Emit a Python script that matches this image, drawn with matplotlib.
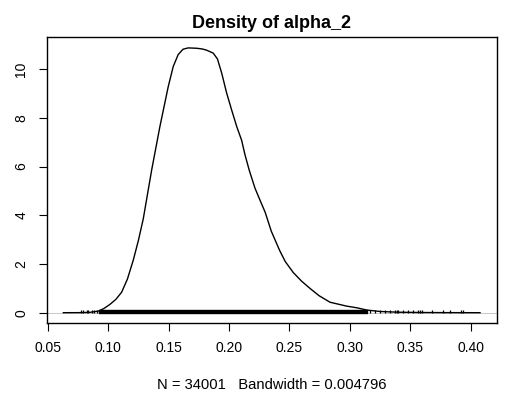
"""
Density plot of an MCMC parameter (coda densplot style).
Writes out.png
"""

import matplotlib
matplotlib.use('Agg')
import matplotlib.pyplot as plt
import numpy as np

matplotlib.rcParams['font.family'] = ['Liberation Sans', 'DejaVu Sans']

# Kernel density estimate
dens_x = [0.0630, 0.0750, 0.0850, 0.0919, 0.0965, 0.1015, 0.1065, 0.1112,
          0.1160, 0.1208, 0.1250, 0.1291, 0.1361, 0.1429, 0.1498, 0.1539,
          0.1580, 0.1620, 0.1663, 0.1733, 0.1780, 0.1816, 0.1870, 0.1905,
          0.1940, 0.1981, 0.2022, 0.2064, 0.2105, 0.2132, 0.2168, 0.2215,
          0.2257, 0.2300, 0.2350, 0.2420, 0.2466, 0.2532, 0.2600, 0.2670,
          0.2745, 0.2836, 0.2974, 0.3060, 0.3139, 0.3250, 0.3400, 0.3600,
          0.3800, 0.4077]
dens_y = [0.000, 0.002, 0.015, 0.066, 0.170, 0.340, 0.550, 0.840,
          1.380, 2.150, 2.950, 3.850, 5.870, 7.650, 9.290, 10.110,
          10.600, 10.820, 10.875, 10.860, 10.830, 10.780, 10.660, 10.420,
          9.840, 9.020, 8.330, 7.650, 7.080, 6.500, 5.850, 5.120,
          4.620, 4.120, 3.350, 2.550, 2.100, 1.650, 1.300, 1.000,
          0.700, 0.430, 0.270, 0.200, 0.110, 0.050, 0.020, 0.008,
          0.003, 0.000]

# Observations shown as short ticks at the bottom of the curve
obs_left = [0.0776, 0.0795, 0.0823, 0.0838, 0.0864, 0.0883, 0.0905]
obs_right = [0.3167, 0.3208, 0.3250, 0.3291, 0.3332, 0.3374, 0.3388, 0.3401,
             0.3442, 0.3484, 0.3525, 0.3566, 0.3580, 0.3594, 0.3677, 0.3773,
             0.3829, 0.3920, 0.3934]
obs_dense = (0.0925, 0.3140)   # range where the ticks merge into a solid bar

n_obs = 34001
bandwidth = 0.004796
param_name = 'alpha_2'

x_ticks = [0.05, 0.10, 0.15, 0.20, 0.25, 0.30, 0.35, 0.40]
y_ticks = [0, 2, 4, 6, 8, 10]


def plot_density():
    fig = plt.figure(figsize=(5.21, 3.96), dpi=100)
    ax = fig.add_axes([0.0896, 0.1836, 0.8637, 0.7222])

    # R style axis ranges: data range padded by 4 % on each side
    x_lo, x_hi = min(dens_x), max(dens_x)
    pad_x = 0.04 * (x_hi - x_lo)
    y_top = max(dens_y)
    pad_y = 0.04 * y_top
    ax.set_xlim(x_lo - pad_x, x_hi + pad_x)
    ax.set_ylim(-pad_y, y_top + pad_y)

    # zero line
    ax.axhline(0, color='#bebebe', linewidth=0.6, zorder=1)

    # density curve
    ax.plot(dens_x, dens_y, color='black', linewidth=1.0, zorder=3)

    # observation ticks, height max/100 as in coda
    rug_h = y_top / 100.0
    ax.vlines(obs_left + obs_right, 0, rug_h, color='black', linewidth=0.9, zorder=2)
    ax.fill_between(list(obs_dense), 0, rug_h, facecolor='black',
                    edgecolor='black', linewidth=1.0, zorder=2)

    ax.set_title('Density of %s' % param_name, fontsize=13, fontweight='bold', pad=7)
    ax.set_xlabel('N = %d   Bandwidth = %g' % (n_obs, bandwidth), fontsize=10.6, labelpad=16)

    ax.set_xticks(x_ticks)
    ax.set_xticklabels(['%.2f' % t for t in x_ticks])
    ax.set_yticks(y_ticks)
    ax.set_yticklabels([str(t) for t in y_ticks], rotation=90, va='center')

    ax.tick_params(axis='both', which='major', labelsize=10, direction='out',
                   length=6.1, width=0.8, pad=7)

    for spine in ax.spines.values():
        spine.set_linewidth(1.0)
        spine.set_color('black')

    fig.savefig('out.png', dpi=100, facecolor='white')
    plt.close(fig)


if __name__ == '__main__':
    plot_density()
